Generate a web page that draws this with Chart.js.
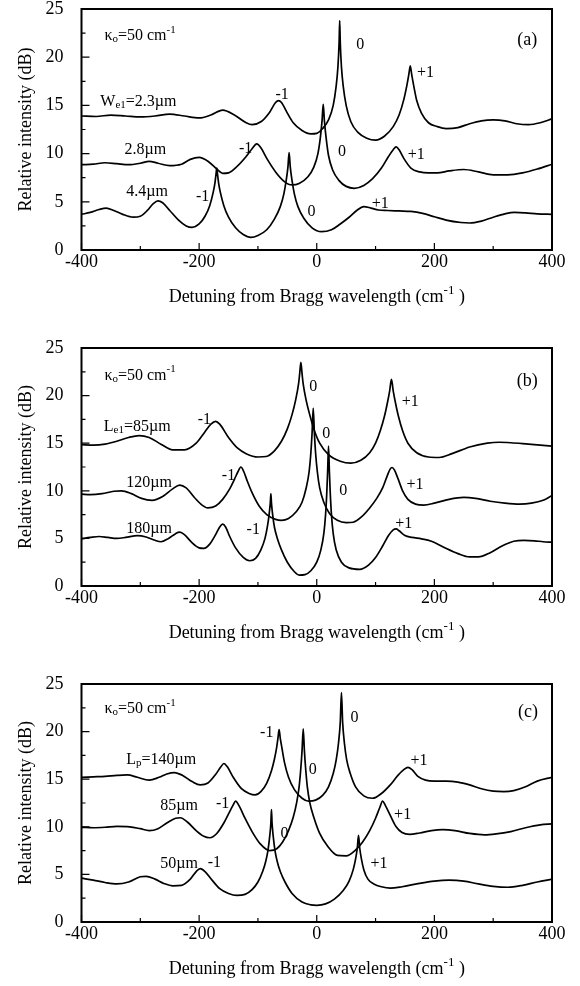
<!DOCTYPE html>
<html>
<head>
<meta charset="utf-8">
<title>Relative intensity vs detuning from Bragg wavelength</title>
<script src="https://cdn.jsdelivr.net/npm/chart.js@4.4.1/dist/chart.umd.min.js"></script>
<style>
  html, body { margin: 0; padding: 0; background: #fff; }
  #wrap { position: relative; width: 580px; height: 986px; overflow: hidden; background: #fff; }
  .panel { position: absolute; left: 0; width: 580px; }
  .panel canvas { display: block; }
</style>
</head>
<body>
<div id="wrap">
  <div class="panel" id="panelA"><canvas id="chartA" width="580" height="321"></canvas></div>
  <div class="panel" id="panelB"><canvas id="chartB" width="580" height="318"></canvas></div>
  <div class="panel" id="panelC"><canvas id="chartC" width="580" height="318"></canvas></div>
</div>
<script>
// ---- Axis ticks (cm^-1 and dB) ----
const detuningTicks = [-400, -200, 0, 200, 400];
const intensityTicks = [0, 5, 10, 15, 20, 25];

// ---- (a) electrode width We1 : [detuning, relative intensity dB] ----
const specWe23 = [[-400,13.9],[-375,13.85],[-350,14.0],[-325,13.9],[-300,13.8],[-275,13.9],[-250,14.1],[-225,13.9],
  [-200,13.7],[-180,14.0],[-160,14.5],[-140,14.0],[-120,13.2],[-110,13.0],[-95,13.3],[-80,14.3],[-70,15.3],[-65,15.5],
  [-60,15.3],[-50,14.2],[-40,13.2],[-25,12.4],[-10,12.05],[0,12.1],[10,12.6],[20,13.5],[28,15.0],[33,17.0],[36,19.0],
  [38,21.5],[39,23.8],[40,21.5],[42,19.0],[45,17.0],[50,15.0],[58,13.3],[70,12.2],[85,11.6],[100,11.4],[115,11.8],
  [130,12.8],[140,14.0],[148,15.6],[153,17.0],[156,18.0],[158,18.8],[159,19.1],[160,18.8],[162,18.0],[165,17.0],
  [170,15.5],[178,14.2],[190,13.2],[205,12.8],[220,12.6],[240,12.7],[260,13.1],[280,13.4],[300,13.5],[320,13.4],
  [340,13.1],[360,13.0],[380,13.2],[400,13.6]];
const specWe28 = [[-400,8.85],[-380,8.9],[-360,9.05],[-340,8.95],[-320,8.85],[-300,9.0],[-285,9.2],[-270,9.0],
  [-250,8.75],[-230,8.9],[-215,9.4],[-200,9.6],[-185,9.2],[-170,8.4],[-160,7.95],[-150,8.0],[-135,8.7],[-120,9.7],
  [-110,10.5],[-102,11.0],[-95,10.6],[-85,9.5],[-70,8.1],[-55,7.1],[-42,6.75],[-30,6.9],[-15,7.6],[-5,8.6],[2,10.0],
  [6,11.6],[9,13.4],[11,15.1],[13,13.4],[16,11.6],[20,9.8],[27,8.3],[38,7.2],[50,6.6],[64,6.4],[80,6.7],[95,7.4],
  [110,8.5],[122,9.7],[130,10.4],[135,10.7],[140,10.4],[148,9.5],[160,8.5],[175,8.1],[190,8.0],[205,8.0],[225,8.2],
  [250,8.35],[275,8.1],[300,7.8],[325,7.8],[350,8.0],[375,8.4],[400,8.9]];
const specWe44 = [[-400,3.7],[-385,3.9],[-370,4.2],[-358,4.35],[-345,4.1],[-330,3.7],[-312,3.4],[-300,3.5],[-288,4.1],
  [-278,4.8],[-270,5.1],[-262,4.9],[-250,4.1],[-235,3.1],[-222,2.5],[-212,2.35],[-200,2.7],[-190,3.5],[-182,4.6],
  [-176,6.0],[-173,7.0],[-171,8.0],[-170,8.5],[-169,8.0],[-167,7.0],[-164,6.0],[-158,4.6],[-150,3.4],[-138,2.3],
  [-125,1.6],[-112,1.3],[-100,1.5],[-85,2.1],[-72,3.2],[-62,4.5],[-56,5.8],[-52,7.2],[-49,8.6],[-47,10.1],[-45,8.6],
  [-42,7.2],[-38,5.8],[-32,4.5],[-22,3.3],[-8,2.3],[8,1.9],[25,2.1],[40,2.7],[55,3.4],[68,4.1],[80,4.5],[92,4.35],
  [105,4.15],[120,4.1],[140,4.05],[160,4.0],[180,3.8],[200,3.45],[220,3.1],[245,2.85],[260,2.8],[280,3.0],[300,3.4],
  [320,3.75],[336,3.9],[355,3.85],[375,3.75],[400,3.7]];

// ---- (b) electrode length Le1 ----
const specLe85 = [[-400,14.85],[-380,14.8],[-360,14.9],[-340,15.2],[-320,15.6],[-302,15.8],[-285,15.6],[-265,14.9],
  [-245,14.3],[-225,14.3],[-205,15.0],[-190,16.2],[-180,17.0],[-172,17.3],[-165,17.0],[-150,15.6],[-135,14.5],
  [-120,13.9],[-100,13.55],[-86,13.6],[-72,14.2],[-60,15.2],[-50,16.5],[-42,18.0],[-36,19.5],[-31,21.2],[-29,22.3],
  [-27,23.5],[-25,22.3],[-23,21.2],[-18,19.5],[-12,18.0],[-5,16.5],[5,15.0],[20,13.8],[40,13.1],[58,12.9],[75,13.2],
  [90,14.0],[100,15.0],[108,16.3],[115,17.8],[120,19.2],[124,20.5],[127,21.7],[130,20.5],[134,19.2],[139,17.8],
  [146,16.3],[155,15.0],[170,14.0],[190,13.55],[208,13.5],[230,13.9],[260,14.6],[290,15.0],[310,15.1],[330,15.05],
  [360,14.9],[380,14.8],[400,14.7]];
const specLe120 = [[-400,9.65],[-385,9.6],[-365,9.7],[-345,9.95],[-332,10.0],[-315,9.7],[-298,9.2],[-280,9.0],
  [-262,9.4],[-245,10.2],[-233,10.6],[-222,10.3],[-208,9.3],[-195,8.5],[-185,8.2],[-172,8.4],[-160,9.1],[-148,10.2],
  [-140,11.2],[-134,12.0],[-129,12.5],[-124,12.0],[-118,11.0],[-110,9.8],[-98,8.4],[-85,7.5],[-70,7.0],[-60,6.9],
  [-48,7.1],[-35,7.8],[-25,8.8],[-18,10.3],[-13,12.0],[-10,14.0],[-8,16.0],[-6,18.7],[-4,16.0],[-2,14.0],[1,12.0],
  [5,10.3],[12,8.8],[22,7.6],[35,6.9],[50,6.65],[62,6.7],[75,7.2],[90,8.2],[102,9.2],[112,10.3],[120,11.6],[125,12.3],
  [128,12.45],[132,12.2],[138,11.3],[146,10.0],[155,9.1],[168,8.6],[182,8.5],[200,8.7],[225,9.1],[250,9.3],[270,9.2],
  [295,8.9],[320,8.7],[345,8.6],[365,8.7],[385,9.0],[400,9.5]];
const specLe180 = [[-400,4.95],[-385,5.1],[-370,5.2],[-355,5.1],[-340,5.0],[-325,5.1],[-305,5.3],[-290,5.15],
  [-275,4.8],[-265,4.65],[-252,5.0],[-240,5.5],[-233,5.65],[-225,5.4],[-213,4.6],[-200,4.0],[-192,3.95],[-182,4.4],
  [-172,5.4],[-165,6.2],[-160,6.5],[-155,6.2],[-148,5.2],[-138,4.0],[-125,3.0],[-114,2.65],[-104,2.9],[-95,3.8],
  [-88,5.0],[-84,6.2],[-81,7.5],[-79,8.7],[-78,9.7],[-77,8.7],[-75,7.5],[-72,6.2],[-67,5.0],[-60,3.8],[-50,2.5],
  [-38,1.5],[-30,1.15],[-20,1.2],[-10,1.6],[0,2.5],[7,3.8],[12,5.5],[15,7.5],[17,9.7],[18.5,12.0],[20,14.7],
  [21.5,12.0],[23,9.7],[25,7.5],[28,5.5],[33,3.8],[42,2.5],[55,1.9],[73,1.75],[88,2.2],[100,3.0],[112,4.2],[122,5.3],
  [130,5.9],[135,6.0],[140,5.8],[150,5.3],[162,5.1],[178,4.95],[195,4.7],[215,4.1],[240,3.4],[260,3.05],[275,3.05],
  [295,3.5],[315,4.2],[335,4.7],[352,4.8],[370,4.75],[385,4.65],[400,4.6]];

// ---- (c) phase-section length Lp ----
const specLp140 = [[-400,15.2],[-380,15.25],[-360,15.3],[-340,15.4],[-322,15.45],[-305,15.2],[-285,14.9],[-268,15.2],
  [-255,15.55],[-242,15.7],[-228,15.4],[-212,14.75],[-198,14.4],[-185,14.6],[-172,15.5],[-163,16.3],[-158,16.65],
  [-152,16.3],[-142,15.2],[-128,14.0],[-115,13.5],[-105,13.35],[-95,13.7],[-85,14.6],[-77,15.9],[-72,17.1],[-68,18.4],
  [-66,19.3],[-64,20.2],[-62,19.3],[-59,18.2],[-55,16.8],[-48,15.2],[-38,13.9],[-25,13.0],[-14,12.7],[-2,12.8],
  [10,13.3],[20,14.2],[28,15.6],[33,17.0],[37,18.8],[40,21.0],[42,24.1],[44,21.0],[47,18.8],[51,17.0],[57,15.6],
  [66,14.2],[80,13.25],[95,13.0],[110,13.5],[125,14.4],[138,15.4],[148,16.0],[155,16.25],[162,16.0],[172,15.3],
  [185,14.9],[200,14.8],[220,14.8],[240,14.7],[260,14.4],[280,14.0],[300,13.75],[318,13.7],[335,13.8],[355,14.2],
  [375,14.8],[400,15.2]];
const specLp85 = [[-400,9.95],[-380,9.9],[-360,9.95],[-340,10.05],[-318,10.0],[-300,9.8],[-285,9.6],[-270,9.8],
  [-255,10.4],[-240,10.9],[-232,10.95],[-220,10.5],[-205,9.6],[-192,9.0],[-182,8.85],[-170,9.3],[-158,10.4],
  [-148,11.6],[-142,12.3],[-138,12.7],[-132,12.2],[-122,10.9],[-110,9.5],[-96,8.2],[-80,7.5],[-68,7.7],[-58,8.4],
  [-48,9.6],[-40,11.0],[-34,12.6],[-30,14.2],[-27,16.2],[-25,18.0],[-23,20.3],[-21,18.0],[-19,16.2],[-16,14.2],
  [-12,12.6],[-5,11.0],[5,9.3],[18,8.0],[35,7.0],[50,6.95],[65,7.5],[78,8.4],[90,9.6],[100,10.9],[107,12.0],
  [112,12.7],[117,12.2],[125,11.2],[135,10.0],[145,9.4],[158,9.2],[175,9.35],[195,9.6],[214,9.7],[235,9.6],[260,9.3],
  [285,9.15],[305,9.25],[330,9.5],[355,9.9],[380,10.2],[400,10.3]];
const specLp50 = [[-400,4.6],[-380,4.4],[-360,4.15],[-340,4.0],[-320,4.2],[-300,4.75],[-290,4.8],[-275,4.5],
  [-260,4.05],[-245,3.8],[-230,3.85],[-215,4.5],[-205,5.3],[-198,5.6],[-190,5.3],[-178,4.4],[-165,3.5],[-150,3.0],
  [-136,2.8],[-122,2.9],[-110,3.4],[-100,4.2],[-92,5.3],[-87,6.3],[-83,7.5],[-80,9.0],[-78,10.4],[-77,11.8],
  [-76,10.4],[-74,9.0],[-71,7.5],[-67,6.3],[-62,5.3],[-54,4.2],[-42,3.0],[-25,2.1],[-10,1.8],[0,1.75],[15,1.9],
  [30,2.4],[45,3.3],[55,4.3],[62,5.5],[66,6.6],[69,7.8],[71,9.1],[73,7.8],[76,6.6],[80,5.5],[87,4.5],[97,4.0],
  [110,3.7],[125,3.55],[145,3.7],[170,4.0],[200,4.3],[225,4.4],[250,4.3],[275,4.0],[300,3.75],[325,3.65],[350,3.85],
  [375,4.2],[400,4.5]];

// ---- Text labels placed in data coordinates: [x, y, text, align] ----
// ^{..} = superscript, _{..} = subscript
const notesA = [[-361,22.2,'κ_{o}=50 cm^{-1}','left'],[358,21.8,'(a)','center'],
  [74,21.3,'0','center'],[185,18.4,'+1','center'],[-59,16.1,'-1','center'],[-368,15.4,'W_{e1}=2.3µm','left'],
  [-327,10.4,'2.8µm','left'],[-121,10.5,'-1','center'],[43,10.2,'0','center'],[169,9.9,'+1','center'],
  [-324,6.0,'4.4µm','left'],[-194,5.5,'-1','center'],[-9,4.0,'0','center'],[108,4.8,'+1','center']];
const notesB = [[-361,22.1,'κ_{o}=50 cm^{-1}','left'],[358,21.5,'(b)','center'],
  [-6,20.9,'0','center'],[159,19.4,'+1','center'],[-191,17.5,'-1','center'],[-362,16.7,'L_{e1}=85µm','left'],
  [16,16.0,'0','center'],[-324,10.8,'120µm','left'],[-150,11.6,'-1','center'],[167,10.6,'+1','center'],
  [45,10.0,'0','center'],[-324,6.0,'180µm','left'],[-108,5.9,'-1','center'],[148,6.5,'+1','center']];
const notesC = [[-361,22.4,'κ_{o}=50 cm^{-1}','left'],[359,22.0,'(c)','center'],
  [64,21.5,'0','center'],[-85,19.9,'-1','center'],[-324,17.0,'L_{p}=140µm','left'],[-7,16.0,'0','center'],
  [174,16.9,'+1','center'],[-266,12.2,'85µm','left'],[-160,12.4,'-1','center'],[146,11.3,'+1','center'],
  [-55,9.3,'0','center'],[-266,6.1,'50µm','left'],[-174,6.2,'-1','center'],[106,6.1,'+1','center']];

const SERIF = '"Liberation Serif", "Times New Roman", Times, serif';
Chart.defaults.font.family = SERIF;
Chart.defaults.color = '#000';

// split "a^{b}c_{d}" into runs with a vertical shift
function parseRuns(str) {
  const runs = [];
  const re = /(\^\{[^}]*\}|_\{[^}]*\})/;
  str.split(re).forEach(tok => {
    if (!tok) return;
    if (tok.startsWith('^{')) runs.push({ t: tok.slice(2, -1), kind: 'sup' });
    else if (tok.startsWith('_{')) runs.push({ t: tok.slice(2, -1), kind: 'sub' });
    else runs.push({ t: tok, kind: 'base' });
  });
  return runs;
}

function drawRich(ctx, str, x, y, align, size) {
  const runs = parseRuns(str);
  const small = Math.round(size * 0.7);
  let total = 0;
  runs.forEach(r => {
    ctx.font = (r.kind === 'base' ? size : small) + 'px ' + SERIF;
    r.w = ctx.measureText(r.t).width;
    total += r.w;
  });
  let cx = align === 'center' ? x - total / 2 : x;
  ctx.textAlign = 'left';
  ctx.textBaseline = 'middle';
  runs.forEach(r => {
    const sz = r.kind === 'base' ? size : small;
    ctx.font = sz + 'px ' + SERIF;
    const dy = r.kind === 'sup' ? -size * 0.38 : (r.kind === 'sub' ? size * 0.2 : 0);
    ctx.fillText(r.t, cx, y + dy);
    cx += r.w;
  });
}

// frame, inward tick marks, x-axis title and curve labels
const decorPlugin = {
  id: 'decor',
  afterDraw(chart, args, opts) {
    const { ctx, chartArea: a, scales: { x, y } } = chart;
    ctx.save();
    ctx.strokeStyle = '#000';
    ctx.lineWidth = 1.2;
    ctx.beginPath();
    for (let v = -400; v <= 400; v += 100) {
      const px = x.getPixelForValue(v);
      const len = v % 200 === 0 ? 7 : 4;
      ctx.moveTo(px, a.bottom); ctx.lineTo(px, a.bottom - len);
    }
    for (let v = 0; v <= 25; v += 2.5) {
      const py = y.getPixelForValue(v);
      const len = v % 5 === 0 ? 8 : 4;
      ctx.moveTo(a.left, py); ctx.lineTo(a.left + len, py);
    }
    ctx.stroke();
    ctx.lineWidth = 2;
    ctx.strokeRect(a.left, a.top, a.right - a.left, a.bottom - a.top);

    ctx.fillStyle = '#000';
    drawRich(ctx, 'Detuning from Bragg wavelength (cm^{-1} )', (a.left + a.right) / 2, a.bottom + 47, 'center', 18);

    opts.notes.forEach(([nx, ny, text, align]) => {
      const size = /^\(/.test(text) ? 18 : 16;
      drawRich(ctx, text, x.getPixelForValue(nx), y.getPixelForValue(ny), align, size);
    });
    ctx.restore();
  }
};

function makePanel(canvasId, wrapId, top, plotHeight, curves, notes) {
  document.getElementById(wrapId).style.top = top + 'px';
  const canvas = document.getElementById(canvasId);
  const xAxisHeight = canvas.height - 20 - plotHeight;
  return new Chart(canvas, {
    type: 'line',
    data: {
      datasets: curves.map(c => ({
        data: c.map(([dx, db]) => ({ x: dx, y: db })),
        borderColor: '#000',
        borderWidth: 1.7,
        pointRadius: 0,
        fill: false,
        cubicInterpolationMode: 'monotone'
      }))
    },
    options: {
      responsive: false,
      animation: false,
      events: [],
      layout: { padding: { top: 20, left: 0, right: 28, bottom: 0 } },
      plugins: { legend: { display: false }, tooltip: { enabled: false }, decor: { notes } },
      scales: {
        x: {
          type: 'linear', min: detuningTicks[0], max: detuningTicks[detuningTicks.length - 1],
          afterBuildTicks: s => { s.ticks = detuningTicks.map(v => ({ value: v })); },
          ticks: { font: { size: 18 }, color: '#000', padding: 1, maxRotation: 0, autoSkip: false },
          grid: { display: false, drawTicks: false },
          border: { display: false },
          afterFit: s => { s.height = xAxisHeight; s.paddingLeft = 0; s.paddingRight = 0; }
        },
        y: {
          min: intensityTicks[0], max: intensityTicks[intensityTicks.length - 1],
          afterBuildTicks: s => { s.ticks = intensityTicks.map(v => ({ value: v })); },
          ticks: { font: { size: 18 }, color: '#000', padding: 18 },
          grid: { display: false, drawTicks: false },
          border: { display: false },
          title: { display: true, text: 'Relative intensity (dB)', font: { size: 18 }, color: '#000', padding: { top: 15, bottom: 0 } },
          afterFit: s => { s.width = 81.5; s.paddingTop = 0; s.paddingBottom = 0; }
        }
      }
    },
    plugins: [decorPlugin]
  });
}

makePanel('chartA', 'panelA', -11, 241, [specWe23, specWe28, specWe44], notesA);
makePanel('chartB', 'panelB', 328, 238, [specLe85, specLe120, specLe180], notesB);
makePanel('chartC', 'panelC', 664, 238, [specLp140, specLp85, specLp50], notesC);
</script>
</body>
</html>
